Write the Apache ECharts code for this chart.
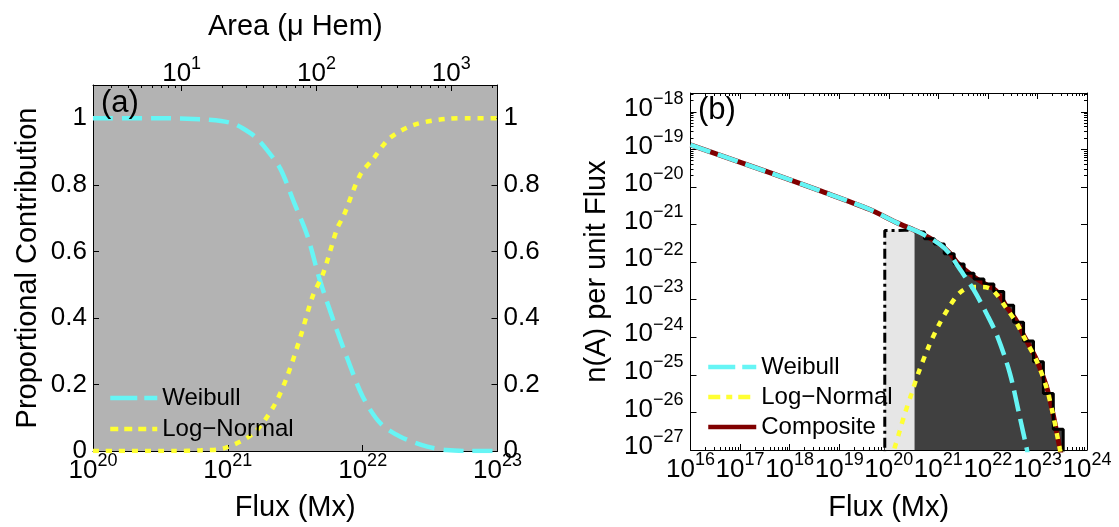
<!DOCTYPE html>
<html><head><meta charset="utf-8">
<script src="https://cdn.jsdelivr.net/npm/echarts@6/dist/echarts.min.js"></script>
<style>html,body{margin:0;padding:0;background:#fff}#c{width:1119px;height:527px}</style>
</head><body><div id="c"></div>
<script>
// ===== Panel (a): proportional contribution vs flux (log10 of flux in Mx) =====
const aWeibullFluxExp = [20.0, 20.5, 20.8, 20.95, 21.04, 21.11, 21.2, 21.29, 21.39, 21.49, 21.59, 21.68, 21.78, 21.88, 22.0, 22.13, 22.28, 22.48, 22.62, 22.8, 23.0];
const aWeibull        = [1.0, 1.0, 0.997, 0.992, 0.984, 0.970, 0.945, 0.905, 0.848, 0.748, 0.647, 0.517, 0.396, 0.285, 0.164, 0.084, 0.043, 0.013, 0.003, 0.0, 0.0];
const aLogNormalFluxExp = [20.0, 20.6, 20.8, 20.97, 21.19, 21.34, 21.44, 21.54, 21.63, 21.71, 21.81, 21.86, 21.98, 22.08, 22.2, 22.38, 22.62, 22.8, 23.0];
const aLogNormal        = [0.0, 0.0, 0.002, 0.008, 0.053, 0.134, 0.224, 0.345, 0.466, 0.537, 0.668, 0.708, 0.829, 0.879, 0.940, 0.980, 0.998, 1.0, 1.0];
const aFluxRange = [1e20, 1e23];          // bottom axis
const aAreaRange = [2.2, 2200];           // top axis, Area (micro-hemispheres)
const aPropTicks = [0, 0.2, 0.4, 0.6, 0.8, 1.0];
const aPropRange = [0, 1.1];

// ===== Panel (b): n(A) per unit flux (log10 values) =====
const bWeibullFluxExp = [16.0, 17.6, 18.61, 19.62, 20.16, 20.63, 21.03, 21.23, 21.40, 21.72, 22.0, 22.19, 22.44, 22.64, 22.78, 22.85];
const bWeibullLog     = [-18.88, -19.62, -20.10, -20.60, -20.95, -21.22, -21.53, -21.78, -22.12, -22.75, -23.44, -23.97, -24.94, -26.10, -26.94, -27.4];
const bCompositeFluxExp = [16.0, 17.6, 18.61, 19.62, 20.16, 20.63, 21.03, 21.23, 21.40, 21.70, 21.97, 22.17, 22.37, 22.58, 22.71, 22.98, 23.18, 23.31, 23.45, 23.52];
const bCompositeLog     = [-18.88, -19.62, -20.10, -20.60, -20.95, -21.22, -21.53, -21.76, -22.04, -22.38, -22.60, -22.77, -23.17, -23.57, -23.92, -24.59, -25.30, -26.01, -26.94, -27.4];
const bLogNormalFluxExp = [20.05, 20.12, 20.22, 20.32, 20.46, 20.59, 20.79, 21.0, 21.23, 21.43, 21.67, 21.90, 22.10, 22.37, 22.58, 22.71, 22.98, 23.18, 23.31, 23.45, 23.52];
const bLogNormalLog     = [-27.3, -26.94, -26.50, -26.05, -25.50, -24.98, -24.30, -23.70, -23.17, -22.82, -22.66, -22.66, -22.75, -23.22, -23.62, -23.95, -24.62, -25.33, -26.03, -26.96, -27.4];
// histogram of observed data: bin left edges (log10 flux) and bin heights (log10)
const bHistLightEdges = [19.92, 20.12, 20.32, 20.52];
const bHistLightLog   = [-21.16, -21.15, -21.16, -21.16];
const bHistDarkEdges  = [20.52, 20.72, 20.92, 21.12, 21.32, 21.52, 21.72, 21.92, 22.12, 22.32, 22.52, 22.72, 22.92, 23.12, 23.32, 23.52];
const bHistDarkLog    = [-21.20, -21.38, -21.52, -21.78, -22.05, -22.30, -22.45, -22.58, -22.78, -23.15, -23.60, -24.10, -24.65, -25.50, -26.45, -27.5];
const bHistFloorLog = -27.5;
const bFluxRange = [1e16, 1e24];
const bNRangeLog = [-27.001, -17.5];

// ---------------------------------------------------------------
const FONT = '"Liberation Sans", Arial, Helvetica, sans-serif';
const P = e => Math.pow(10, e);
const pairs = (xs, ys) => xs.map((x, i) => [P(x), ys[i]]);
const pairsLog = (xs, ys) => xs.map((x, i) => [P(x), P(ys[i])]);
const bNRange = [P(bNRangeLog[0]), P(bNRangeLog[1])];

const richX = {
  b: {fontSize: 26, lineHeight: 26, fontFamily: FONT, color: '#000'},
  s: {fontSize: 18, lineHeight: 18, padding: [0, 0, 20, 0], fontFamily: FONT, color: '#000'}
};
const richY = {
  b: {fontSize: 26, lineHeight: 26, padding: [0, 0, 6, 0], fontFamily: FONT, color: '#000'},
  s: {fontSize: 18, lineHeight: 18, padding: [0, 0, 25, 0], fontFamily: FONT, color: '#000'}
};
function pow10Label(v) {
  if (!(v > 0) || !isFinite(v)) return '';
  const e = Math.log10(v), r = Math.round(e);
  if (Math.abs(e - r) > 1e-6) return '';
  return '{b|10}{s|' + (r < 0 ? '\u2212' + (-r) : String(r)) + '}';
}
function propLabel(v) {
  for (const t of aPropTicks) if (Math.abs(v - t) < 1e-6) return String(t);
  return '';
}
const black = '#000';
const axisLine = {show: true, onZero: false, lineStyle: {color: black, width: 1}};
const tickIn = {show: true, inside: true, length: 6, lineStyle: {color: black}};
const minorIn = {show: true, splitNumber: 9, length: 3, lineStyle: {color: black}};
const nameStyle = {fontSize: 29, fontFamily: FONT, color: black};
const lblCommon = {showMinLabel: true, showMaxLabel: true, hideOverlap: false};

const CYAN = '#66f5f5', YELLOW = '#ffff33', DARKRED = '#800000';

const option = {
  animation: false,
  backgroundColor: '#fff',
  textStyle: {fontFamily: FONT},
  grid: [
    {left: 93, top: 85, width: 404.5, height: 366, show: true, backgroundColor: '#b3b3b3', borderWidth: 0, containLabel: false, outerBoundsMode: 'none'},
    {left: 690.5, top: 93, width: 396.5, height: 357, show: false, containLabel: false, outerBoundsMode: 'none'}
  ],
  xAxis: [
    {gridIndex: 0, type: 'log', logBase: 10, min: aFluxRange[0], max: aFluxRange[1], position: 'bottom',
     axisLine, axisTick: tickIn, splitLine: {show: false},
     axisLabel: Object.assign({formatter: pow10Label, rich: richX, margin: 7}, lblCommon),
     name: 'Flux (Mx)', nameLocation: 'middle', nameGap: 42, nameMoveOverlap: false, nameTextStyle: nameStyle},
    {gridIndex: 0, type: 'log', logBase: 10, min: aAreaRange[0], max: aAreaRange[1], position: 'top',
     axisLine, axisTick: tickIn, minorTick: minorIn, splitLine: {show: false},
     axisLabel: Object.assign({formatter: pow10Label, rich: richX, margin: -2}, lblCommon),
     name: 'Area (\u03bc Hem)', nameLocation: 'middle', nameGap: 44, nameMoveOverlap: false, nameTextStyle: nameStyle},
    {gridIndex: 1, type: 'log', logBase: 10, min: bFluxRange[0], max: bFluxRange[1], position: 'bottom',
     axisLine, axisTick: tickIn, minorTick: minorIn, splitLine: {show: false},
     axisLabel: Object.assign({formatter: pow10Label, rich: richX, margin: 7}, lblCommon),
     name: 'Flux (Mx)', nameLocation: 'middle', nameGap: 43, nameMoveOverlap: false, nameTextStyle: nameStyle},
    {gridIndex: 1, type: 'log', logBase: 10, min: bFluxRange[0], max: bFluxRange[1], position: 'top',
     axisLine, axisTick: tickIn, minorTick: minorIn, splitLine: {show: false}, axisLabel: {show: false}}
  ],
  yAxis: [
    {gridIndex: 0, type: 'value', min: aPropRange[0], max: aPropRange[1], interval: 0.2, position: 'left',
     axisLine, axisTick: tickIn, splitLine: {show: false},
     axisLabel: Object.assign({formatter: propLabel, fontSize: 26, color: black, fontFamily: FONT, margin: 6}, lblCommon),
     name: 'Proportional Contribution', nameLocation: 'middle', nameGap: 51, nameMoveOverlap: false, nameTextStyle: nameStyle},
    {gridIndex: 0, type: 'value', min: aPropRange[0], max: aPropRange[1], interval: 0.2, position: 'right',
     axisLine, axisTick: tickIn, splitLine: {show: false},
     axisLabel: Object.assign({formatter: propLabel, fontSize: 26, color: black, fontFamily: FONT, margin: 6}, lblCommon)},
    {gridIndex: 1, type: 'log', logBase: 10, min: bNRange[0], max: bNRange[1], position: 'left',
     axisLine, axisTick: tickIn, minorTick: minorIn, splitLine: {show: false},
     axisLabel: Object.assign({formatter: pow10Label, rich: richY, margin: 7}, lblCommon),
     name: 'n(A) per unit Flux', nameLocation: 'middle', nameGap: 79, nameMoveOverlap: false, nameTextStyle: nameStyle},
    {gridIndex: 1, type: 'log', logBase: 10, min: bNRange[0], max: bNRange[1], position: 'right',
     axisLine, axisTick: tickIn, minorTick: minorIn, splitLine: {show: false}, axisLabel: {show: false}}
  ],
  legend: [
    {data: [
       {name: 'Weibull', lineStyle: {color: CYAN, width: 4.5, type: [27, 7]}},
       {name: 'Log\u2212Normal', lineStyle: {color: YELLOW, width: 4.5, type: [8, 6]}}],
     orient: 'vertical', left: 103, top: 381, itemWidth: 47, itemHeight: 14, itemGap: 7,
     itemStyle: {opacity: 0, borderWidth: 0},
     textStyle: {fontSize: 24, fontFamily: FONT, color: black}, selectedMode: false},
    {data: [
       {name: 'Weibull (b)', lineStyle: {color: CYAN, width: 4.5, type: [27, 7]}},
       {name: 'Log\u2212Normal (b)', lineStyle: {color: YELLOW, width: 4.5, type: [12, 6, 6, 6]}},
       {name: 'Composite (b)', lineStyle: {color: DARKRED, width: 4.5, type: 'solid'}}],
     orient: 'vertical', left: 701, top: 350, itemWidth: 48, itemHeight: 14, itemGap: 6,
     itemStyle: {opacity: 0, borderWidth: 0},
     formatter: n => n.replace(' (b)', ''), textStyle: {fontSize: 24, fontFamily: FONT, color: black}, selectedMode: false}
  ],
  graphic: [
    {type: 'text', left: 101, top: 88, z: 100, style: {text: '(a)', font: '31px ' + FONT, fill: black}},
    {type: 'text', left: 698, top: 95, z: 100, style: {text: '(b)', font: '31px ' + FONT, fill: black}}
  ],
  series: [
    // ---- panel (a)
    {name: 'Weibull', type: 'line', xAxisIndex: 0, yAxisIndex: 0, symbol: 'none', smooth: 0.3,
     data: pairs(aWeibullFluxExp, aWeibull), lineStyle: {color: CYAN, width: 4.5, type: [20, 9]}, itemStyle: {color: CYAN}},
    {name: 'Log\u2212Normal', type: 'line', xAxisIndex: 0, yAxisIndex: 0, symbol: 'none', smooth: 0.3,
     data: pairs(aLogNormalFluxExp, aLogNormal), lineStyle: {color: YELLOW, width: 4.5, type: [6, 7]}, itemStyle: {color: YELLOW}},
    // ---- panel (b) fills
    {name: 'histLightFill', type: 'line', xAxisIndex: 2, yAxisIndex: 2, symbol: 'none', step: 'end', z: 1,
     data: pairsLog([bHistLightEdges[0]].concat(bHistLightEdges), [bHistFloorLog].concat(bHistLightLog)),
     lineStyle: {width: 0}, areaStyle: {color: '#e6e6e6', opacity: 1, origin: bNRange[0]}},
    {name: 'histDarkFill', type: 'line', xAxisIndex: 2, yAxisIndex: 2, symbol: 'none', step: 'end', z: 1,
     data: pairsLog(bHistDarkEdges, bHistDarkLog),
     lineStyle: {width: 0}, areaStyle: {color: '#404040', opacity: 1, origin: bNRange[0]}},
    {name: 'Composite (b)', type: 'line', xAxisIndex: 2, yAxisIndex: 2, symbol: 'none', smooth: 0.3, z: 2,
     data: pairsLog(bCompositeFluxExp, bCompositeLog), lineStyle: {color: DARKRED, width: 5}, itemStyle: {color: DARKRED}},
    {name: 'histLightLine', type: 'line', xAxisIndex: 2, yAxisIndex: 2, symbol: 'none', step: 'end', z: 3,
     data: pairsLog([bHistLightEdges[0]].concat(bHistLightEdges), [bHistFloorLog].concat(bHistLightLog)),
     lineStyle: {color: black, width: 3, type: [10, 4, 3, 4]}},
    {name: 'histDarkLine', type: 'line', xAxisIndex: 2, yAxisIndex: 2, symbol: 'none', step: 'end', z: 3,
     data: pairsLog(bHistDarkEdges, bHistDarkLog), lineStyle: {color: black, width: 3}},
    {name: 'Log\u2212Normal (b)', type: 'line', xAxisIndex: 2, yAxisIndex: 2, symbol: 'none', smooth: 0.3, z: 4,
     data: pairsLog(bLogNormalFluxExp, bLogNormalLog), lineStyle: {color: YELLOW, width: 4.5, type: [6, 7]}, itemStyle: {color: YELLOW}},
    {name: 'Weibull (b)', type: 'line', xAxisIndex: 2, yAxisIndex: 2, symbol: 'none', smooth: 0.3, z: 5,
     data: pairsLog(bWeibullFluxExp, bWeibullLog), lineStyle: {color: CYAN, width: 4.5, type: [21, 8]}, itemStyle: {color: CYAN}}
  ]
};
const chart = echarts.init(document.getElementById('c'), null, {renderer: 'canvas', width: 1119, height: 527});
chart.setOption(option);
</script>
</body></html>
